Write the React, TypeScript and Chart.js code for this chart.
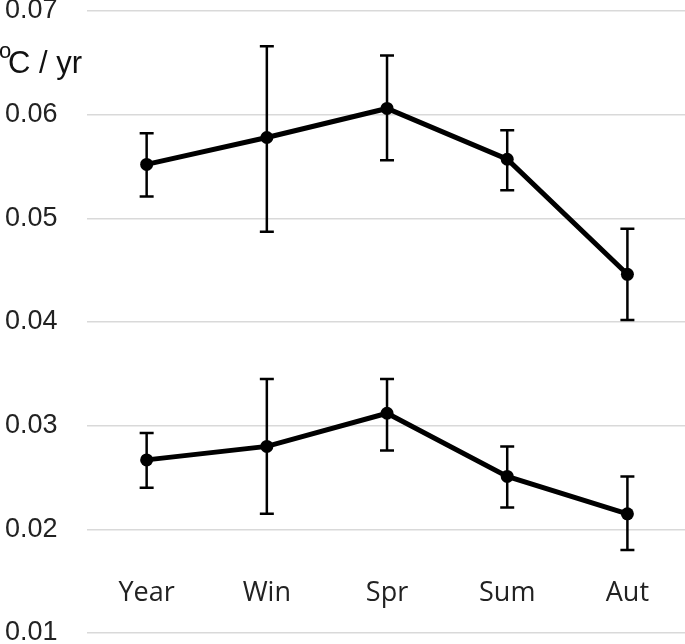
import React, { useEffect, useRef } from "react";
import { Chart, registerables } from "chart.js";

Chart.register(...registerables);

const categories = ["Year", "Win", "Spr", "Sum", "Aut"];
const upperValues = [0.0552, 0.0578, 0.0606, 0.0557, 0.0446];
const upperLow = [0.0521, 0.0487, 0.0556, 0.0527, 0.0402];
const upperHigh = [0.0582, 0.0666, 0.0657, 0.0585, 0.049];
const lowerValues = [0.0267, 0.028, 0.0312, 0.0251, 0.0215];
const lowerLow = [0.024, 0.0215, 0.0276, 0.0221, 0.018];
const lowerHigh = [0.0293, 0.0345, 0.0345, 0.028, 0.0251];
const yMin = 0.01;
const yMax = 0.07;
const yStep = 0.01;
const unitMain = "C / yr";
const unitSup = "o";

const errorBarsPlugin = {
  id: "errorBars",
  beforeDatasetsDraw(chart: any) {
    const ctx = chart.ctx;
    const x = chart.scales.x;
    const y = chart.scales.y;
    const sets = [
      { lo: upperLow, hi: upperHigh },
      { lo: lowerLow, hi: lowerHigh },
    ];
    ctx.save();
    ctx.strokeStyle = "#000";
    ctx.lineWidth = 2.5;
    ctx.lineCap = "butt";
    sets.forEach((s) => {
      categories.forEach((_, i) => {
        const px = x.getPixelForValue(i);
        const pTop = y.getPixelForValue(s.hi[i]);
        const pBot = y.getPixelForValue(s.lo[i]);
        ctx.beginPath();
        ctx.moveTo(px, pTop);
        ctx.lineTo(px, pBot);
        ctx.moveTo(px - 7, pTop);
        ctx.lineTo(px + 7, pTop);
        ctx.moveTo(px - 7, pBot);
        ctx.lineTo(px + 7, pBot);
        ctx.stroke();
      });
    });
    ctx.restore();
  },
};

const unitTitlePlugin = {
  id: "unitTitle",
  afterDraw(chart: any) {
    const ctx = chart.ctx;
    ctx.save();
    ctx.fillStyle = "#111";
    ctx.textBaseline = "alphabetic";
    ctx.textAlign = "left";
    ctx.font = '22px "Liberation Sans", Arial, sans-serif';
    ctx.fillText(unitSup, -1, 58);
    ctx.font = '31px "Liberation Sans", Arial, sans-serif';
    ctx.fillText(unitMain, 8, 73);
    ctx.restore();
  },
};

export default function App() {
  const ref = useRef<HTMLCanvasElement>(null);

  useEffect(() => {
    document.body.style.margin = "0";
    const canvas = ref.current;
    if (!canvas) return;
    const lineDs = (data: number[]) => ({
      data,
      borderColor: "#000",
      backgroundColor: "#000",
      borderWidth: 5,
      pointRadius: 6.5,
      pointBackgroundColor: "#000",
      pointBorderColor: "#000",
      pointBorderWidth: 0,
      tension: 0,
    });
    const chart = new Chart(canvas, {
      type: "line",
      data: {
        labels: categories,
        datasets: [lineDs(upperValues), lineDs(lowerValues)],
      },
      options: {
        animation: false,
        responsive: false,
        layout: { padding: { left: 5, right: 0, top: 0, bottom: 0 } },
        plugins: {
          legend: { display: false },
          tooltip: { enabled: false },
          title: { display: false },
        },
        scales: {
          x: {
            type: "category",
            offset: true,
            position: { y: 0.0154 } as any,
            grid: { display: false, drawTicks: false },
            border: { display: false },
            ticks: {
              padding: 0,
              color: "#222",
              font: { family: '"Open Sans", "Noto Sans", sans-serif', size: 27 },
            },
          },
          y: {
            min: yMin,
            max: yMax,
            grid: {
              color: "#d9d9d9",
              lineWidth: 1.5,
              drawTicks: true,
              tickLength: 29,
              tickColor: "rgba(0,0,0,0)",
            },
            border: { display: false },
            ticks: {
              stepSize: yStep,
              padding: 0,
              color: "#222",
              font: { family: '"Liberation Sans", Arial, sans-serif', size: 27, lineHeight: 0.815 },
              callback: (v: any) => Number(v).toFixed(2),
            },
          },
        },
      },
      plugins: [errorBarsPlugin, unitTitlePlugin],
    });
    return () => chart.destroy();
  }, []);

  return (
    <div style={{ width: 685, height: 644, overflow: "hidden" }}>
      <canvas ref={ref} width={694} height={644} style={{ display: "block" }} />
    </div>
  );
}
